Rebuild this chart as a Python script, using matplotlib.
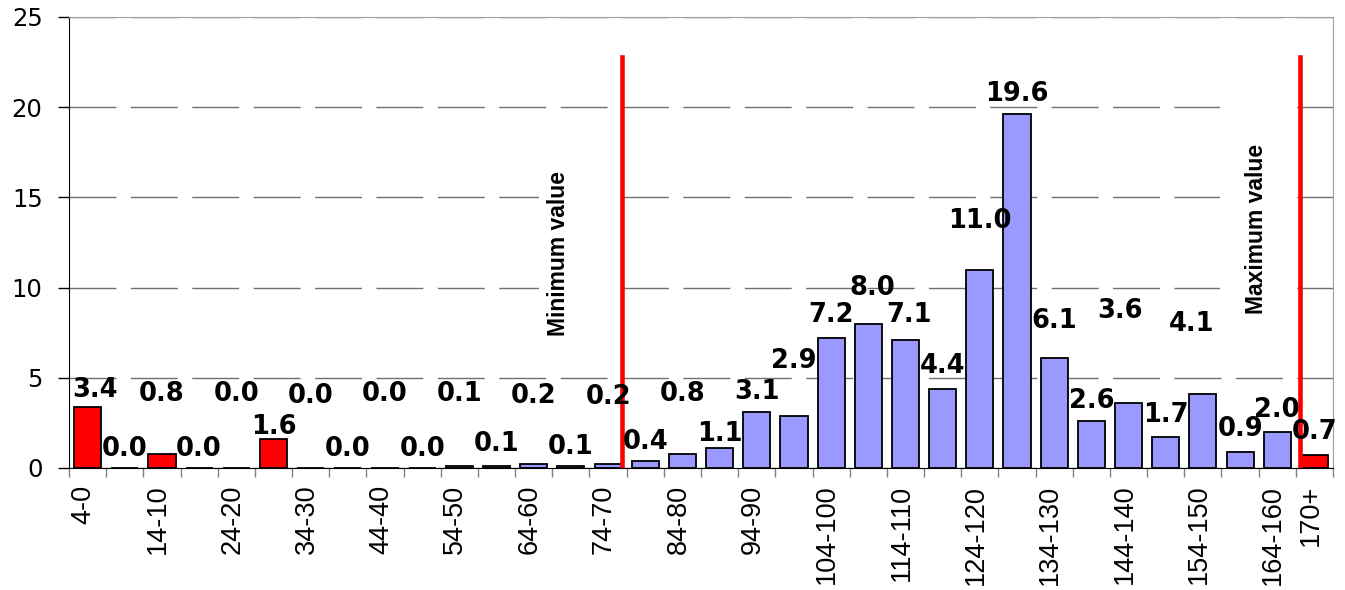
import matplotlib
matplotlib.use("Agg")
import matplotlib.pyplot as plt
import matplotlib.transforms as mtransforms
from matplotlib.patches import Rectangle

plt.rcParams["font.family"] = ["DejaVu Sans"]

# age groups (labels written high-low), share of population in %
groups = ["4-0", "9-5", "14-10", "19-15", "24-20", "29-25", "34-30", "39-35",
          "44-40", "49-45", "54-50", "59-55", "64-60", "69-65", "74-70", "79-75",
          "84-80", "89-85", "94-90", "99-95", "104-100", "109-105", "114-110",
          "119-115", "124-120", "129-125", "134-130", "139-135", "144-140",
          "149-145", "154-150", "159-155", "164-160", "170+"]
shares = [3.4, 0.0, 0.8, 0.0, 0.0, 1.6, 0.0, 0.0, 0.0, 0.0, 0.1, 0.1, 0.2, 0.1,
          0.2, 0.4, 0.8, 1.1, 3.1, 2.9, 7.2, 8.0, 7.1, 4.4, 11.0, 19.6, 6.1,
          2.6, 3.6, 1.7, 4.1, 0.9, 2.0, 0.7]
outside = [0, 2, 5, 33]          # groups outside the min/max range
min_mark = 14.37
max_mark = 32.62

# where each value label sits (baseline, in axis units) and small x nudges
label_base = [3.96, 0.69, 3.69, 0.69, 3.69, 1.91, 3.58, 0.69, 3.69, 0.69,
              3.69, 0.92, 3.63, 0.75, 3.52, 1.08, 3.69, 1.47, 3.85, 5.54,
              8.11, 9.59, 8.11, 5.27, 13.3, 20.36, 7.76, 3.35, 8.31, 2.57,
              7.61, 1.77, 2.85, 1.59]
label_dx = {0: 0.19, 21: 0.1, 22: 0.1, 28: -0.22, 30: -0.3}

fig = plt.figure(figsize=(13.45, 5.9), dpi=100)
ax = fig.add_axes([0.0513, 0.2068, 0.9398, 0.7644])

x = list(range(len(shares)))
colors = ["#ff0000" if i in outside else "#9999ff" for i in x]
ax.bar(x, shares, width=0.73, color=colors, edgecolor="black", linewidth=1.3,
       zorder=2)

for i, v in enumerate(shares):
    ax.text(i + label_dx.get(i, 0), label_base[i], "%.1f" % v, ha="center",
            va="baseline", fontsize=18.5, fontweight="bold", zorder=5)

# limit markers
ax.plot([min_mark, min_mark], [0, 22.8], color="#ff0000", lw=3.3, zorder=3)
ax.plot([max_mark, max_mark], [0, 22.8], color="#ff0000", lw=3.3, zorder=3)

ax.add_patch(Rectangle((12.14, 6.8), 1.91, 10.3, facecolor="white",
                       edgecolor="none", zorder=1))
ax.add_patch(Rectangle((30.47, 9.0), 2.07, 12.0, facecolor="white",
                       edgecolor="none", zorder=1))
ax.text(12.68, 11.89, "Minimum value", rotation=90, ha="center", va="center",
        fontsize=16.5, fontweight="bold", family=["Liberation Sans"], zorder=4)
ax.text(31.43, 13.25, "Maximum value", rotation=90, ha="center", va="center",
        fontsize=16.5, fontweight="bold", family=["Liberation Sans"], zorder=4)

ax.set_xlim(-0.5, len(shares) - 0.5)
ax.set_ylim(0, 25)
ax.set_yticks([0, 5, 10, 15, 20, 25])
ax.tick_params(axis="y", direction="out", length=8, width=1, pad=11,
               labelsize=17.5)

# tick marks between groups, labels on every other group
ax.set_xticks([i - 0.5 for i in range(len(shares) + 1)])
ax.set_xticklabels([])
ax.tick_params(axis="x", which="major", direction="out", length=6.5,
               color="#808080", width=1)
shown = list(range(0, len(shares) - 1, 2)) + [len(shares) - 1]
ax.set_xticks(shown, [groups[i] for i in shown], minor=True)
ax.tick_params(axis="x", which="minor", length=0, pad=12, labelsize=19.5,
               labelrotation=90)
shift = mtransforms.ScaledTranslation(-4 / 100, 0, fig.dpi_scale_trans)
for lab in ax.get_xticklabels(minor=True):
    lab.set_fontfamily("Liberation Sans")
    lab.set_transform(lab.get_transform() + shift)

ax.set_axisbelow(True)
ax.yaxis.grid(True, color="#707070", linestyle=(0, (33.8, 10.4)), linewidth=1)
ax.spines["top"].set_color("#a0a0a0")
ax.spines["right"].set_color("#a0a0a0")
ax.spines["left"].set_color("black")
ax.spines["bottom"].set_color("black")

fig.savefig("out.png", dpi=100)
